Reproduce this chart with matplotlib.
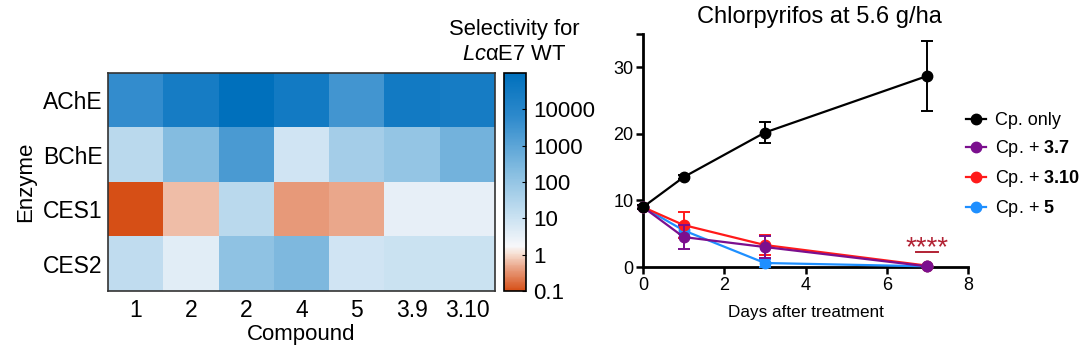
import numpy as np
import matplotlib
import matplotlib.pyplot as plt
from matplotlib.colors import LinearSegmentedColormap, LogNorm
from matplotlib.lines import Line2D

plt.rcParams['font.family'] = ['Liberation Sans', 'DejaVu Sans']
plt.rcParams['mathtext.fontset'] = 'custom'
plt.rcParams['mathtext.rm'] = 'Liberation Sans'
plt.rcParams['mathtext.it'] = 'Liberation Sans:italic'
plt.rcParams['mathtext.bf'] = 'Liberation Sans:bold'

# heatmap data (selectivity, log10 estimated from colour)
enzymes = ['AChE', 'BChE', 'CES1', 'CES2']
compounds = ['1', '2', '2', '4', '5', '3.9', '3.10']
log_sel = np.array([
    [3.7, 4.4, 5.0, 4.5, 3.45, 4.5, 4.4],
    [1.3, 2.3, 3.3, 0.9, 1.7, 2.0, 2.6],
    [-1.0, -0.2, 1.3, -0.42, -0.33, 0.5, 0.5],
    [1.2, 0.6, 2.1, 2.4, 0.9, 1.0, 1.0],
])
selectivity = 10 ** log_sel
cbar_ticks = [0.1, 1, 10, 100, 1000, 10000]

# time course data
days = [0, 1, 3, 7]
series_names = ['Cp. only', 'Cp. + $\\mathbf{3.7}$', 'Cp. + $\\mathbf{3.10}$', 'Cp. + $\\mathbf{5}$']
series_vals = [
    [9.0, 13.5, 20.2, 28.7],
    [9.0, 4.5, 3.0, 0.1],
    [9.0, 6.3, 3.3, 0.2],
    [9.0, 5.5, 0.6, 0.1],
]
series_err = [
    [0.3, 0.3, 1.6, 5.2],
    [0.3, 1.8, 1.6, 0.1],
    [0.3, 2.0, 1.5, 0.1],
    [0.3, 0.5, 0.6, 0.1],
]
series_colors = ['black', '#7B0F8E', '#FF1A1A', '#1E8FFF']
series_z = [6, 5, 4, 3]

fig = plt.figure(figsize=(10.8, 3.53), dpi=100)

# ---- heatmap ----
ax = fig.add_axes([108 / 1080, 1 - 291 / 353, 387 / 1080, 218 / 353])
cmap = LinearSegmentedColormap.from_list('sel', [
    (0.0, (0.84, 0.31, 0.09)),
    (0.10, (0.91, 0.62, 0.50)),
    (0.17, (0.97, 0.88, 0.83)),
    (0.205, (0.97, 0.97, 0.98)),
    (0.33, (0.80, 0.89, 0.95)),
    (0.55, (0.52, 0.74, 0.88)),
    (0.80, (0.18, 0.54, 0.80)),
    (1.0, (0.0, 0.44, 0.74)),
])
norm = LogNorm(vmin=0.1, vmax=1e5)
im = ax.imshow(selectivity, cmap=cmap, norm=norm, aspect='auto')
ax.set_xticks(range(len(compounds)))
ax.set_xticklabels(compounds, fontsize=16.5)
ax.set_yticks(range(len(enzymes)))
ax.set_yticklabels(enzymes, fontsize=16.5)
ax.tick_params(axis='x', length=0, pad=6)
ax.tick_params(axis='y', length=0, pad=4)
ax.set_xlabel('Compound', fontsize=16, labelpad=1)
ax.set_ylabel('Enzyme', fontsize=16, labelpad=5)
for s in ax.spines.values():
    s.set_linewidth(1.2)
    s.set_color('#333333')

cax = fig.add_axes([504 / 1080, 1 - 291 / 353, 22 / 1080, 218 / 353])
cb = fig.colorbar(im, cax=cax, ticks=cbar_ticks)
cb.ax.set_yticklabels(['0.1', '1', '10', '100', '1000', '10000'], fontsize=16)
cb.ax.tick_params(which='major', direction='in', length=3, pad=5)
cb.ax.tick_params(which='minor', length=0)
cb.outline.set_linewidth(1.2)
fig.text(514 / 1080, 1 - 29 / 353, 'Selectivity for', ha='center', va='center', fontsize=15.8)
fig.text(514 / 1080, 1 - 55 / 353, '$\\mathit{Lc}$\u03b1E7 WT', ha='center', va='center', fontsize=15.8)

# ---- time course ----
ax2 = fig.add_axes([643 / 1080, 1 - 267 / 353, 325 / 1080, 233 / 353])
for name, vals, err, col, z in zip(series_names, series_vals, series_err, series_colors, series_z):
    ax2.errorbar(days, vals, yerr=err, color=col, marker='o', markersize=7.5,
                 lw=1.6, capsize=4.5, capthick=1.4, elinewidth=1.4, clip_on=False, zorder=z)
ax2.set_xlim(0, 8)
ax2.set_ylim(0, 35)
ax2.set_xticks([0, 2, 4, 6, 8])
ax2.set_yticks([0, 10, 20, 30])
ax2.set_yticks([35], minor=True)
ax2.tick_params(which='both', labelsize=13, width=1.8, length=5, direction='out', pad=2)
ax2.spines['top'].set_visible(False)
ax2.spines['right'].set_visible(False)
for s in ['left', 'bottom']:
    ax2.spines[s].set_linewidth(2)
ax2.set_xlabel('Days after treatment', fontsize=12.3, labelpad=8)
fig.text(819 / 1080, 1 - 17 / 353, 'Chlorpyrifos at 5.6 g/ha', ha='center', va='center', fontsize=17)
ax2.plot([6.72, 7.27], [2.25, 2.25], color='#B22234', lw=1.4)
ax2.text(7, 1.8, '****', color='#B22234', ha='center', va='baseline', fontsize=20)

handles = [Line2D([], [], color=c, marker='o', markersize=7.5, lw=1.6) for c in series_colors]
ax2.legend(handles, series_names, loc='upper left', bbox_to_anchor=(0.995, 0.665),
           frameon=False, fontsize=13, borderaxespad=0, borderpad=0,
           handlelength=1.1, handletextpad=0.5, labelspacing=0.5)

fig.savefig('out.png', dpi=100)
